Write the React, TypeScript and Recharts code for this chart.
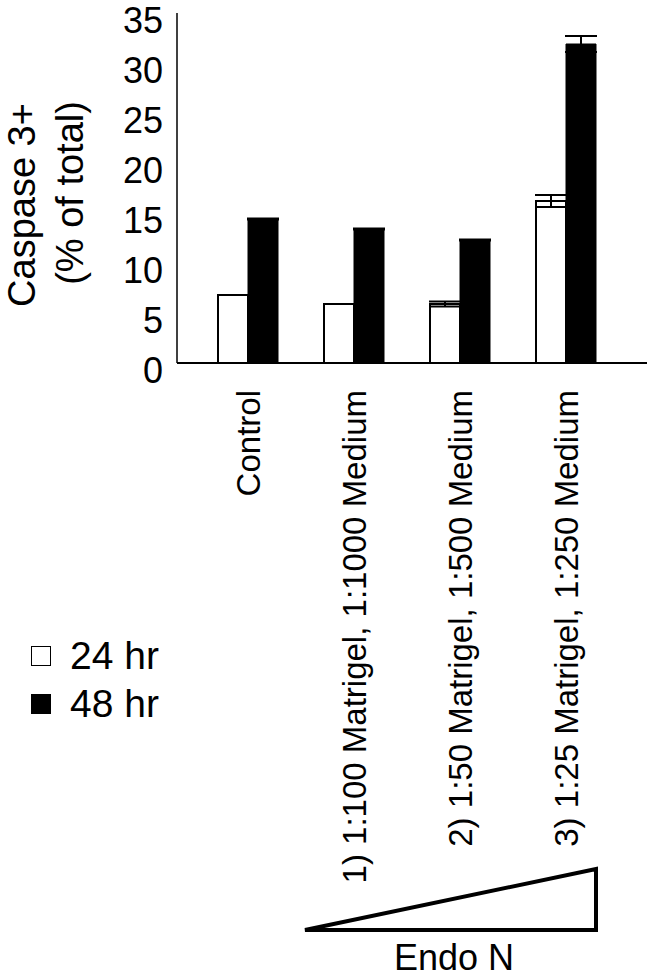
import { BarChart, Bar, XAxis, YAxis, ErrorBar, Legend } from 'recharts';

const categories = [
  'Control',
  '1) 1:100 Matrigel, 1:1000 Medium',
  '2) 1:50 Matrigel, 1:500 Medium',
  '3) 1:25 Matrigel, 1:250 Medium',
];
const hr24 = [6.8, 5.9, 5.9, 16.2];
const hr48 = [14.4, 13.4, 12.3, 31.9];
const err24 = [0, 0, 0.25, 0.6];
const err48 = [0.05, 0.05, 0.05, 0.8];
const yTicks = [0, 5, 10, 15, 20, 25, 30, 35];

const FONT = '"Liberation Sans", Arial, Helvetica, sans-serif';

const data = categories.map((name, i) => ({
  name,
  hr24: hr24[i],
  hr48: hr48[i],
  err24: err24[i],
  err48: err48[i],
}));

// rotated category label, end of text sits just under the axis
function CategoryTick(props: any) {
  const { x, y, payload } = props;
  return (
    <text
      x={x}
      y={y + 27}
      dy="0.36em"
      transform={`rotate(-90, ${x}, ${y + 27})`}
      textAnchor="end"
      fontSize={33}
      fontFamily={FONT}
      fill="#000"
    >
      {payload.value}
    </text>
  );
}

function ValueTick(props: any) {
  const { x, y, payload } = props;
  return (
    <text x={x} y={y + 20} textAnchor="end" fontSize={36} fontFamily={FONT} fill="#000">
      {payload.value}
    </text>
  );
}

function YTitle(props: any) {
  const { viewBox } = props;
  const cy = viewBox.y + viewBox.height / 2;
  return (
    <g fontFamily={FONT} fontSize={38} fill="#000">
      <text x={35} y={cy + 17} transform={`rotate(-90, 35, ${cy + 17})`} textAnchor="middle">
        Caspase 3+
      </text>
      <text x={83} y={cy + 5} transform={`rotate(-90, 83, ${cy + 5})`} textAnchor="middle">
        (% of total)
      </text>
    </g>
  );
}

function LegendBox(props: any) {
  const { payload } = props;
  return (
    <div style={{ fontFamily: FONT, fontSize: 39, color: '#000' }}>
      {(payload || []).map((entry: any) => (
        <div key={entry.value} style={{ display: 'flex', alignItems: 'center', height: 48 }}>
          <span
            style={{
              display: 'inline-block',
              width: 18,
              height: 18,
              background: entry.color,
              border: '1.5px solid #000',
              marginRight: 19,
            }}
          />
          <span>{entry.value}</span>
        </div>
      ))}
    </div>
  );
}

export default function App() {
  return (
    <div style={{ position: 'absolute', left: 0, top: 0, width: 650, height: 977, background: '#fff' }}>
      <BarChart
        width={650}
        height={977}
        data={data}
        margin={{ top: 13, right: 3, bottom: 0, left: 0 }}
        barGap={0}
        barSize={30}
      >
        <XAxis
          dataKey="name"
          height={614}
          interval={0}
          tickLine={false}
          tickSize={0}
          tickMargin={0}
          tick={<CategoryTick />}
          padding={{ left: 18, right: 28 }}
          axisLine={{ stroke: '#000', strokeWidth: 2 }}
        />
        <YAxis
          width={177}
          domain={[0, 35]}
          ticks={yTicks}
          interval={0}
          tickLine={false}
          tickSize={0}
          tickMargin={14}
          axisLine={{ stroke: '#000', strokeWidth: 1.5 }}
          tick={<ValueTick />}
          label={<YTitle />}
        />
        <Legend
          layout="horizontal"
          align="center"
          verticalAlign="middle"
          content={<LegendBox />}
          wrapperStyle={{ position: 'absolute', left: 31, top: 632, width: 200 }}
        />
        <Bar dataKey="hr24" name="24 hr" fill="#fff" stroke="#000" strokeWidth={2} isAnimationActive={false}>
          <ErrorBar dataKey="err24" width={16} stroke="#000" strokeWidth={2} isAnimationActive={false} />
        </Bar>
        <Bar dataKey="hr48" name="48 hr" fill="#000" stroke="#000" strokeWidth={1} isAnimationActive={false}>
          <ErrorBar dataKey="err48" width={16} stroke="#000" strokeWidth={2} isAnimationActive={false} />
        </Bar>
      </BarChart>
      <svg width={650} height={977} style={{ position: 'absolute', left: 0, top: 0, pointerEvents: 'none' }}>
        <polygon points="305,930 596,930 596,869" fill="none" stroke="#000" strokeWidth={4} strokeLinejoin="miter" />
        <text x={454} y={970} textAnchor="middle" fontFamily={FONT} fontSize={36} fill="#000">
          Endo N
        </text>
      </svg>
    </div>
  );
}
